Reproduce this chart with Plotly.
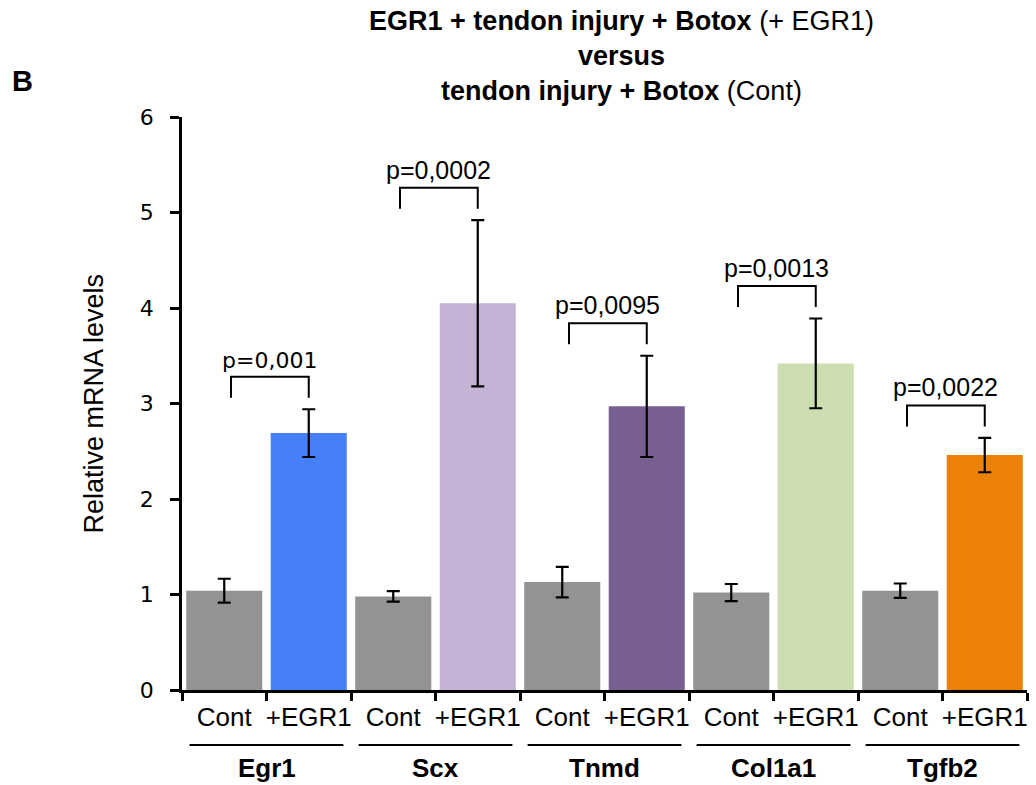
import plotly.graph_objects as go

# ---- data ----
genes = ["Egr1", "Scx", "Tnmd", "Col1a1", "Tgfb2"]
conditions = ["Cont", "+EGR1"]
cont_vals = [1.04, 0.98, 1.13, 1.02, 1.04]
cont_err = [0.125, 0.055, 0.16, 0.09, 0.075]
egr_vals = [2.69, 4.05, 2.97, 3.42, 2.46]
egr_err = [0.25, 0.87, 0.53, 0.47, 0.18]
p_texts = ["p=0,001", "p=0,0002", "p=0,0095", "p=0,0013", "p=0,0022"]
egr_colors = ["#4580FA", "#C4B3D5", "#775F91", "#CCDDAF", "#EB8107"]
cont_color = "#939393"

# ---- build bar table ----
cats, vals, errs, cols, ticktext = [], [], [], [], []
for i, g in enumerate(genes):
    cats += [g + " Cont", g + " +EGR1"]
    vals += [cont_vals[i], egr_vals[i]]
    errs += [cont_err[i], egr_err[i]]
    cols += [cont_color, egr_colors[i]]
    ticktext += conditions

FONT = "Liberation Sans, Arial, sans-serif"

fig = go.Figure()
fig.add_trace(go.Bar(
    x=cats, y=vals,
    marker=dict(color=cols, line=dict(width=0)),
    error_y=dict(type="data", array=errs, visible=True, color="black",
                 thickness=2.2, width=6.5),
    width=0.9, showlegend=False,
))

H_PLOT = 785 - 117 - 95

shapes = []
annotations = []
for i, g in enumerate(genes):
    ci = 2 * i
    ei = 2 * i + 1
    err_top = egr_vals[i] + egr_err[i]
    y_top = err_top + 0.34
    y_leg = err_top + 0.12
    x0 = ci + 0.08
    x1 = ei
    shapes.append(dict(
        type="path", xref="x", yref="y",
        path=f"M {x0},{y_leg} L {x0},{y_top} L {x1},{y_top} L {x1},{y_leg}",
        line=dict(color="black", width=2),
    ))
    annotations.append(dict(
        x=(x0 + x1) / 2, y=y_top, xref="x", yref="y",
        text=p_texts[i], showarrow=False, yanchor="bottom", yshift=2,
        font=dict(family=("DejaVu Sans" if i == 0 else FONT), size=(22 if i == 0 else 25), color="black"),
    ))
    # group underline and gene label
    gc = (ci + ei) / 2
    shapes.append(dict(
        type="line", xref="x", yref="paper",
        x0=gc - 0.91, x1=gc + 0.91, y0=-55 / H_PLOT, y1=-55 / H_PLOT,
        line=dict(color="black", width=2),
    ))
    annotations.append(dict(
        x=gc, y=-78 / H_PLOT, xref="x", yref="paper", text=f"<b>{g}</b>",
        showarrow=False, yanchor="middle",
        font=dict(family=FONT, size=26, color="black"),
    ))

# y-axis title
annotations.append(dict(
    x=-89 / 845, y=0.5, xref="paper", yref="paper", text="Relative mRNA levels",
    textangle=-90, showarrow=False, xanchor="center", yanchor="middle",
    font=dict(family=FONT, size=27, color="black"),
))
# panel letter
annotations.append(dict(
    x=-160 / 845, y=(690 - 81) / H_PLOT, xref="paper", yref="paper",
    text="<b>B</b>", showarrow=False, xanchor="center", yanchor="middle",
    font=dict(family=FONT, size=29, color="black"),
))

fig.update_layout(
    width=1036, height=785,
    margin=dict(l=182, r=9, t=117, b=95),
    paper_bgcolor="white", plot_bgcolor="white",
    title=dict(
        text="<b>EGR1 + tendon injury + Botox</b> (+ EGR1)<br><b>versus</b><br><b>tendon injury + Botox</b> (Cont)",
        x=(621.5) / 1036, xanchor="center", y=1 - 30 / 785, yanchor="middle",
        font=dict(family=FONT, size=27, color="black"),
    ),
    xaxis=dict(
        type="category", categoryorder="array", categoryarray=cats,
        tickvals=cats, ticktext=ticktext, tickson="boundaries", tickangle=0,
        ticks="outside", ticklen=8, tickwidth=2.5, tickcolor="black",
        showline=True, linecolor="black", linewidth=2.5,
        showgrid=False, zeroline=False, range=[-0.5, 9.5],
        tickfont=dict(family=FONT, size=26, color="black"),
        ticklabelstandoff=2,
    ),
    yaxis=dict(
        range=[0, 6], tickvals=[0, 1, 2, 3, 4, 5, 6],
        ticks="outside", ticklen=9, tickwidth=2.5, tickcolor="black",
        showline=True, linecolor="black", linewidth=2.5,
        showgrid=False, zeroline=False,
        tickfont=dict(family="DejaVu Sans, Verdana, sans-serif", size=22, color="black"),
        ticklabelstandoff=12,
    ),
    shapes=shapes, annotations=annotations,
    bargap=0.1,
)

fig.write_html("out.html", config={"displayModeBar": False},
               post_script="document.body.style.margin='0';document.body.style.overflow='hidden';")
